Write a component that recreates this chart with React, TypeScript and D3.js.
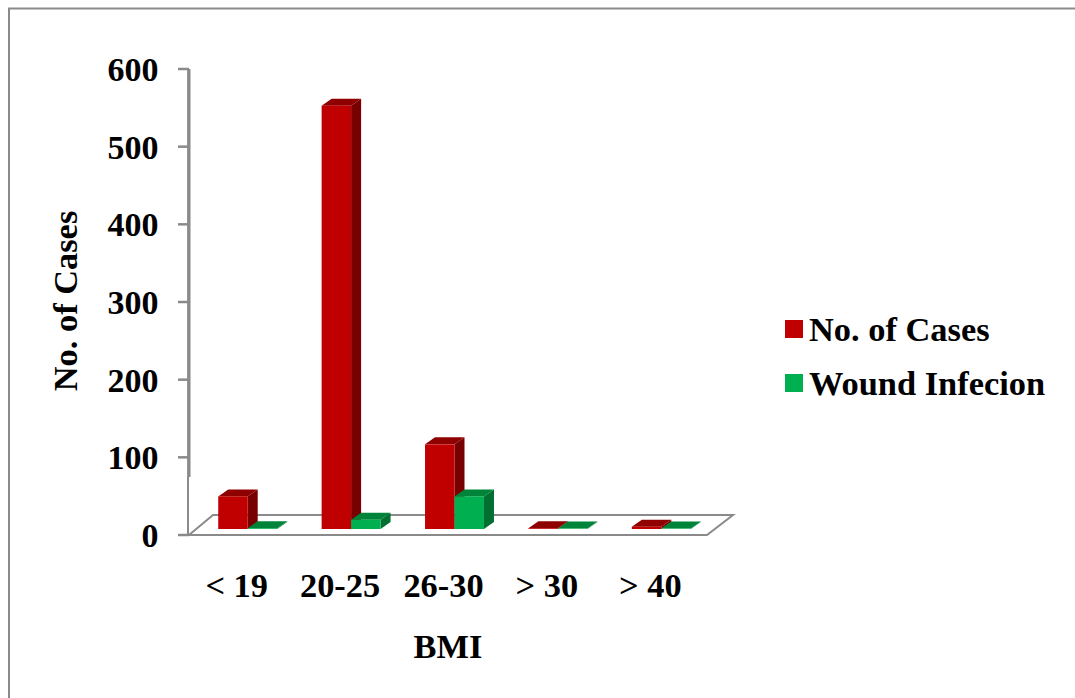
import React from 'react';
import * as d3 from 'd3';

const categories = ['< 19', '20-25', '26-30', '> 30', '> 40'];
const seriesNames = ['No. of Cases', 'Wound Infecion'];
const cases = [42, 545, 109, 1, 3];
const infections = [1, 12, 42, 0.5, 0.5];
const yTicks = [0, 100, 200, 300, 400, 500, 600];

const FONT = '"Liberation Serif", serif';
const GREY = '#8a8a8a';
const RED = { front: '#c00000', top: '#8f0000', side: '#780000' };
const GREEN = { front: '#00b050', top: '#008439', side: '#006f30' };
const depthX = 10;
const depthY = 7;
const floorDepthX = 24;
const floorDepthY = 20;

const y = d3.scaleLinear().domain([0, 600]).range([535, 69]);
// bars sit on a floor raised a little above the axis zero
const baseShift = y(0) - 529;

const x = d3.scaleBand<string>().domain(categories).range([196, 713]).paddingInner(0.43).paddingOuter(0.215);

const App: React.FC = () => {
  const bw = x.bandwidth() / 2;

  const bar = (cat: string, value: number, offset: number, col: typeof RED) => {
    const x0 = x(cat)! + offset;
    const x1 = x0 + bw;
    const yb = y(0) - baseShift;
    const yt = y(value) - baseShift;
    const h = yb - yt;
    return (
      <g key={`${cat}-${offset}`}>
        <path d={`M${x1},${yt}L${x1 + depthX},${yt - depthY}L${x1 + depthX},${yb - depthY}L${x1},${yb}Z`} fill={col.side} />
        <path d={`M${x0},${yt}L${x0 + depthX},${yt - depthY}L${x1 + depthX},${yt - depthY}L${x1},${yt}Z`} fill={col.top} />
        <rect x={x0} y={yt} width={bw} height={h} fill={col.front} />
      </g>
    );
  };

  return (
    <svg width={1075} height={698} style={{ position: 'absolute', left: 0, top: 0, background: '#fff' }} fontFamily={FONT} fontWeight="bold">
      {/* outer frame */}
      <path d="M1075,8.5H9V698" fill="none" stroke={GREY} strokeWidth={2} />

      {/* floor */}
      <path
        d={`M189,535L${189 + floorDepthX},${535 - floorDepthY}H733L707,535Z`}
        fill="none"
        stroke={GREY}
        strokeWidth={2}
      />

      {/* y axis, heavier above the break in the source image */}
      <path d="M188.8,69V477" stroke={GREY} strokeWidth={3.4} fill="none" />
      <path d="M188,477V535" stroke={GREY} strokeWidth={2} fill="none" />
      {yTicks.map(t => (
        <g key={t}>
          <line x1={178} x2={189} y1={y(t)} y2={y(t)} stroke={GREY} strokeWidth={2.5} />
          <text x={158.5} y={y(t) + 12} textAnchor="end" fontSize={34} fill="#000">{t}</text>
        </g>
      ))}

      {categories.map((c, i) => bar(c, cases[i], 0, RED))}
      {categories.map((c, i) => bar(c, infections[i], bw, GREEN))}

      {categories.map(c => (
        <text key={c} x={x(c)! + bw - 11} y={597} textAnchor="middle" fontSize={34.4} fill="#000">{c}</text>
      ))}

      <text x={448} y={658} textAnchor="middle" fontSize={34.4} fill="#000">BMI</text>
      <text transform="translate(77,301) rotate(-90)" textAnchor="middle" fontSize={34.4} fill="#000">No. of Cases</text>

      {/* legend */}
      {seriesNames.map((s, i) => (
        <g key={s}>
          <rect x={785} y={320 + i * 54} width={18} height={18} fill={i === 0 ? RED.front : GREEN.front} />
          <text x={809} y={341 + i * 54} fontSize={34.4} fill="#000">{s}</text>
        </g>
      ))}
    </svg>
  );
};

export default App;
